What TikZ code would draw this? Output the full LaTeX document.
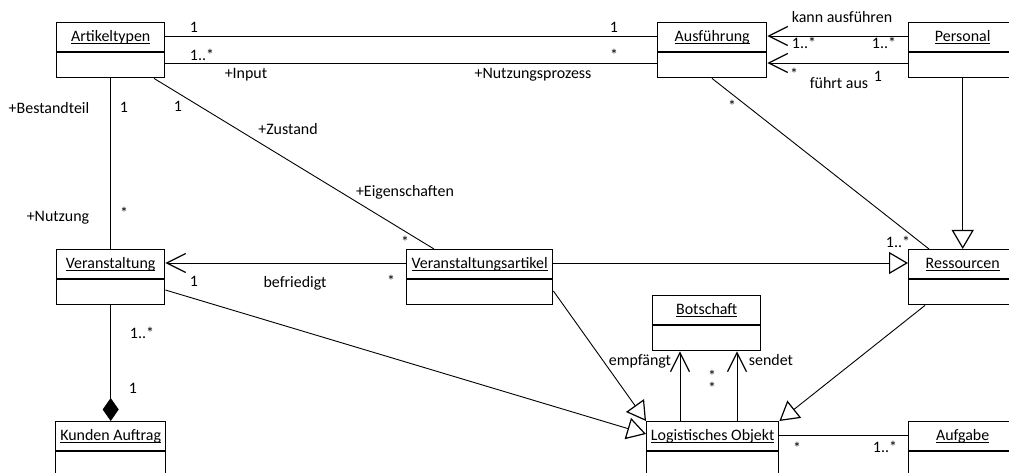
\documentclass[tikz,border=0pt]{standalone}
\usepackage{fontspec}
\setmainfont{Carlito}
\usetikzlibrary{arrows.meta,calc}

% underline set just below the baseline, across descenders
\newcommand\ulname[1]{\setbox0\hbox{#1}\rlap{\rule[-2.4bp]{\wd0}{0.9bp}}\box0}

\tikzset{
  classbox/.style={draw, line width=1.4bp, rectangle, minimum height=55bp,
                   inner sep=0pt, anchor=north west},
  classname/.style={anchor=base, inner sep=0pt},
  lbl/.style={anchor=base, inner sep=0pt},
  assoc/.style={line width=0.9bp},
  navarrow/.style={assoc, -{Straight Barb[length=19bp,width=19bp,line width=1.2bp]}},
  genarrow/.style={assoc, -{Triangle[open,length=19bp,width=22bp,line width=1.2bp]}},
  comparrow/.style={assoc, -{Diamond[length=23bp,width=16bp]}},
}

% class box: name, left, top, width, title
\newcommand\umlclass[5]{%
  \node[classbox, minimum width=#4bp] (#1) at (#2,#3) {};
  \node[classname] (#1-name) at ($(#1.north)+(0,19.5)$) {\ulname{#5}};
  \draw[line width=1.4bp] ($(#1.north west)+(0,30)$) -- ($(#1.north east)+(0,30)$);
}

\begin{document}
\begin{tikzpicture}[x=1bp,y=-1bp,font=\fontsize{16}{19}\selectfont]
\useasboundingbox (0,0) rectangle (1009,473);
\clip (0,0) rectangle (1009,473);

% classes
\umlclass{art}{56}{22}{108}{Artikeltypen}
\umlclass{ausf}{657}{22}{109}{Ausführung}
\umlclass{pers}{908}{22}{108}{Personal}
\umlclass{ver}{56}{249}{108}{Veranstaltung}
\umlclass{vart}{406}{249}{146}{Veranstaltungsartikel}
\umlclass{res}{908}{249}{108}{Ressourcen}
\umlclass{bot}{652}{295}{108}{Botschaft}
\umlclass{lo}{646}{421}{132}{Logistisches Objekt}
\umlclass{aufg}{908}{421}{108}{Aufgabe}
\umlclass{kun}{55}{421}{110}{Kunden Auftrag}

% Artikeltypen -- Ausführung
\draw[assoc] ($(art.north east)+(0,14)$) -- ($(ausf.north west)+(0,14)$);
\draw[assoc] ($(art.north east)+(0,41)$) -- ($(ausf.north west)+(0,41)$);
% Personal -> Ausführung
\draw[navarrow] ($(pers.north west)+(0,14)$) -- ($(ausf.north east)+(0,14)$);
\draw[navarrow] ($(pers.north west)+(0,41)$) -- ($(ausf.north east)+(0,41)$);
% Ausführung -- Ressourcen
\draw[assoc] ($(ausf.south west)+(55,0)$) -- ($(res.north west)+(21,0)$);
% Personal is a Ressource
\draw[genarrow] (pers.south) -- (res.north);
% Artikeltypen -- Veranstaltung / Veranstaltungsartikel
\draw[assoc] (art.south) -- (ver.north);
\draw[assoc] ($(art.south west)+(98,0)$) -- ($(vart.north west)+(28,0)$);
% befriedigt
\draw[navarrow] ($(vart.north west)+(0,14)$) -- ($(ver.north east)+(0,14)$);
\draw[genarrow] ($(vart.north east)+(0,14)$) -- ($(res.north west)+(0,14)$);
% Veranstaltung -- Kunden Auftrag
\draw[comparrow] (ver.south) -- (kun.north);
% generalisations to Logistisches Objekt
\draw[genarrow] ($(ver.north east)+(0,41)$) -- ($(lo.north west)+(0,13)$);
\draw[genarrow] ($(vart.north east)+(0,42)$) -- (lo.north west);
\draw[genarrow] ($(res.south west)+(17,0)$) -- (lo.north east);
% Botschaft
\draw[navarrow] ($(lo.north west)+(34,0)$) -- ($(bot.south west)+(28,0)$);
\draw[navarrow] ($(lo.north west)+(91,0)$) -- ($(bot.south west)+(85,0)$);
% Logistisches Objekt -- Aufgabe
\draw[assoc] ($(lo.north east)+(0,14)$) -- ($(aufg.north west)+(0,14)$);

% association labels
\node[lbl] (l1) at (194,33) {1};
\node[lbl] (l2) at (614,33) {1};
\node[lbl] (l3) at (202,61) {1..*};
\node[lbl] (l4) at (614,61) {*};
\node[lbl] (l5) at (246,79) {+Input};
\node[lbl] (l6) at (533,79) {+Nutzungsprozess};
\node[lbl] (l7) at (842,23) {kann ausführen};
\node[lbl] (l8) at (804,49) {1..*};
\node[lbl] (l9) at (884,49) {1..*};
\node[lbl] (l10) at (794,80) {*};
\node[lbl] (l11) at (839,89) {führt aus};
\node[lbl] (l12) at (878,82) {1};
\node[lbl] (l13) at (732,112) {*};
\node[lbl] (l14) at (49,114) {+Bestandteil};
\node[lbl] (l15) at (124,113) {1};
\node[lbl] (l16) at (178,112) {1};
\node[lbl] (l17) at (288,135) {+Zustand};
\node[lbl] (l18) at (405,197) {+Eigenschaften};
\node[lbl] (l19) at (58,222) {+Nutzung};
\node[lbl] (l20) at (124,219) {*};
\node[lbl] (l21) at (405,248) {*};
\node[lbl] (l22) at (391,287) {*};
\node[lbl] (l23) at (194,287) {1};
\node[lbl] (l24) at (295,288) {befriedigt};
\node[lbl] (l25) at (898,248) {1..*};
\node[lbl] (l26) at (142,339) {1..*};
\node[lbl] (l27) at (133,394) {1};
\node[lbl] (l28) at (640,366) {empfängt};
\node[lbl] (l29) at (771,366) {sendet};
\node[lbl, align=center, font=\fontsize{16}{10}\selectfont] (l30) at (712,394) {*\\*};
\node[lbl] (l32) at (797,453) {*};
\node[lbl] (l33) at (885,452) {1..*};
\end{tikzpicture}
\end{document}
